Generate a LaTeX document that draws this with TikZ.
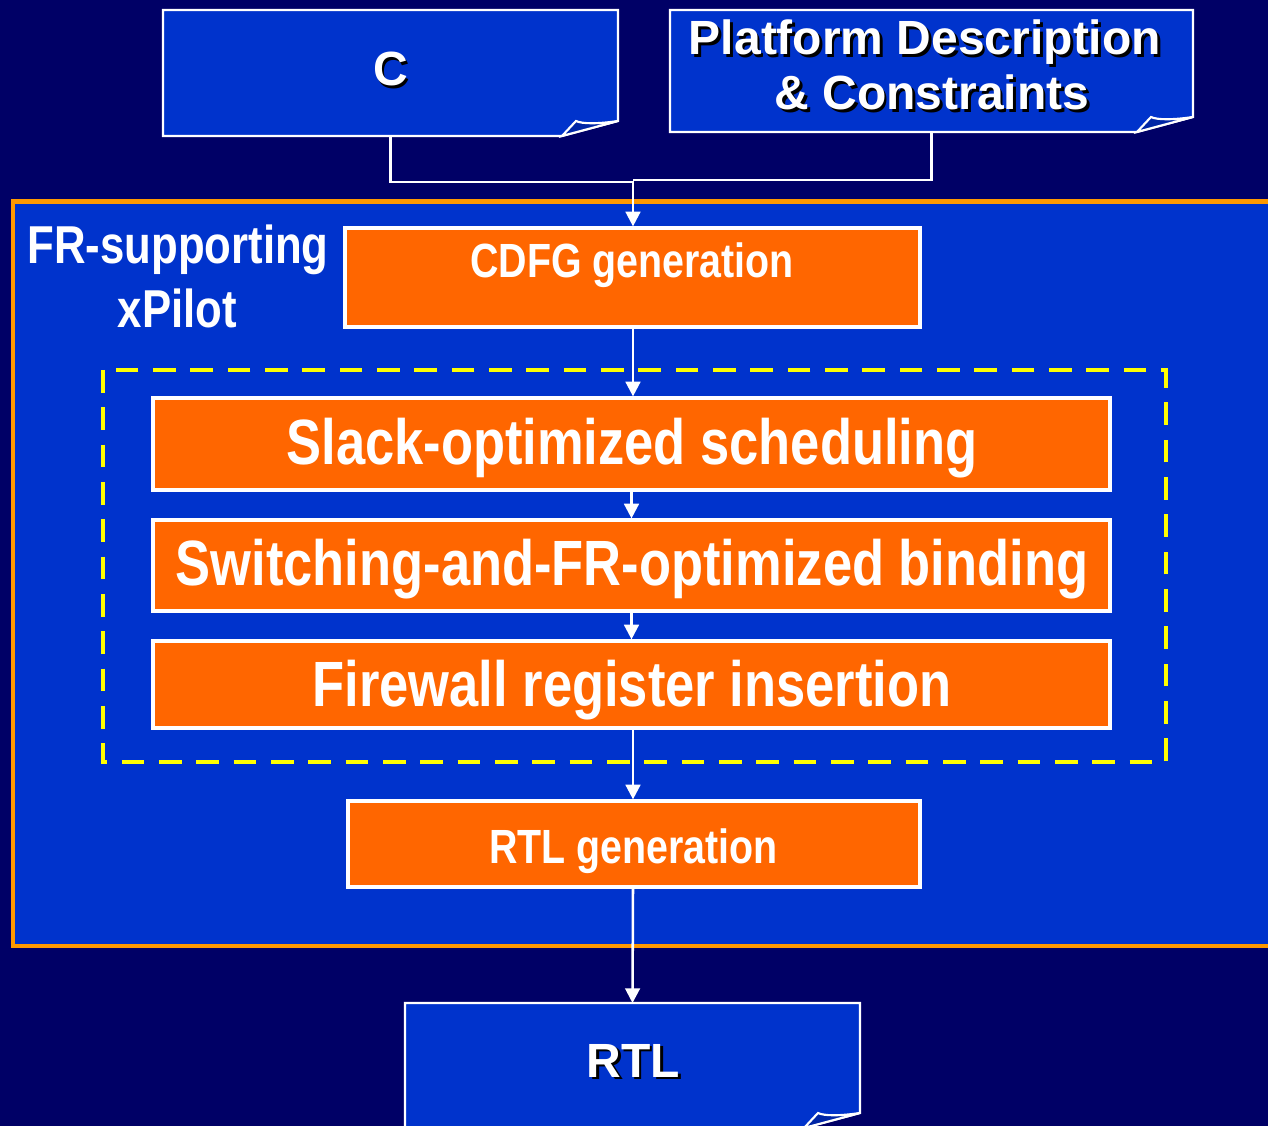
\documentclass[tikz,border=0pt]{standalone}
\usepackage{fontspec}
\setmainfont{Liberation Sans}
\newfontfamily\narrowsans[FakeStretch=0.82]{Liberation Sans}
\usetikzlibrary{arrows.meta}

\definecolor{navybg}{HTML}{000066}
\definecolor{panelblue}{HTML}{0033CC}
\definecolor{foldblue}{HTML}{0026A6}
\definecolor{frameorange}{HTML}{FF9900}
\definecolor{stepfill}{HTML}{FF6600}
\definecolor{dashyellow}{HTML}{FFFF00}

\tikzset{
  docline/.style={draw=white, line width=1.6pt, line join=miter},
  doclabel/.style={font=\bfseries\fontsize{36}{40}\selectfont, text=white, inner sep=0pt, anchor=base},
  stepbox/.style={draw=white, line width=2.4pt, fill=stepfill, inner sep=0pt},
  steplabel/.style={font=\narrowsans\bfseries\fontsize{48}{54}\selectfont, text=white, inner sep=0pt, anchor=base},
  smalllabel/.style={font=\narrowsans\bfseries\fontsize{36}{40}\selectfont, text=white, inner sep=0pt, anchor=base},
  titlelabel/.style={font=\narrowsans\bfseries\fontsize{40}{44}\selectfont, text=white, inner sep=0pt, anchor=base},
  flowline/.style={draw=white, line width=1.9pt},
  flowarrow/.style={flowline, -{Triangle[width=11pt,length=11pt]}},
}

% white text with a dark drop shadow set behind it in the same box
\newcommand\dropshadow[1]{%
  \makebox[0pt][l]{\kern2pt\raisebox{-2pt}{\color{black}#1}}#1}

% document page with a curled lower right corner: #1 name, #2 left, #3 top, #4 right, #5 bottom
\newcommand\docpage[5]{%
  \draw[docline, fill=panelblue] (#2,#3) -- (#4,#3) -- (#4,{#5-15}) -- ({#4-56},#5) -- (#2,#5) -- cycle;
  \draw[docline, fill=foldblue] ({#4-56},#5) -- ({#4-42},{#5-15})
     .. controls ({#4-36},{#5-12}) and ({#4-20},{#5-12}) .. (#4,{#5-15}) -- cycle;
  \coordinate (#1-top) at ({(#2+#4)/2},#3);
  \coordinate (#1-bottom) at ({(#2+#4)/2},#5);
}

\begin{document}
\begin{tikzpicture}[x=0.75pt, y=-0.75pt]
  \useasboundingbox (0,0) rectangle (1268,1126);
  \clip (0,0) rectangle (1268,1126);
  \fill[navybg] (0,0) rectangle (1268,1126);

  % the xPilot flow frame
  \draw[frameorange, fill=panelblue, line width=3.5pt] (13,201.5) rectangle (1290,946);
  \node[titlelabel] (frtitle) at (178,264) {FR-supporting};
  \node[titlelabel] (xpilot) at (177.5,328) {xPilot};

  % inputs and output
  \docpage{cdoc}{163}{10}{618}{136}
  \docpage{pdoc}{670}{10}{1193}{132}
  \docpage{rdoc}{405}{1003}{860}{1128}
  \node[doclabel] (clabel) at (390.5,86) {\dropshadow{C}};
  \node[doclabel] (plabel1) at (925,55) {\dropshadow{Platform Description}};
  \node[doclabel] (plabel2) at (932,110) {\dropshadow{\& Constraints}};
  \node[doclabel] (rlabel) at (633,1077) {\dropshadow{RTL}};

  % optimisation stages
  \draw[dashyellow, line width=3.5pt, dash pattern=on 17pt off 11pt] (103,370) rectangle (1166,762);

  \node[stepbox, minimum width=431.25pt, minimum height=74.25pt] (cdfg) at (632.5,277.5) {};
  \node[stepbox, minimum width=717.75pt, minimum height=69pt] (slack) at (631.5,444) {};
  \node[stepbox, minimum width=717.75pt, minimum height=68.25pt] (switch) at (631.5,565.5) {};
  \node[stepbox, minimum width=717.75pt, minimum height=65.25pt] (firewall) at (631.5,684.5) {};
  \node[stepbox, minimum width=429pt, minimum height=64.5pt] (rtlgen) at (634,844) {};

  \node[smalllabel] (cdfgtext) at (632,278) {CDFG generation};
  \node[steplabel] (slacktext) at (632,465) {Slack-optimized scheduling};
  \node[steplabel] (switchtext) at (632,586) {Switching-and-FR-optimized binding};
  \node[steplabel] (firewalltext) at (632,706) {Firewall register insertion};
  \node[smalllabel] (rtlgentext) at (633.5,863) {RTL generation};

  % connectors
  \coordinate (merge) at (633,181);
  \draw[flowline] (cdoc-bottom) |- (633,182);
  \draw[flowline] (pdoc-bottom) |- (633,180);
  \draw[flowarrow] (merge) -- (merge |- cdfg.north);
  \draw[flowarrow] (cdfg.south -| merge) -- (merge |- slack.north);
  \draw[flowarrow] (slack.south) -- (switch.north);
  \draw[flowarrow] (switch.south) -- (firewall.north);
  \draw[flowarrow] (firewall.south -| merge) -- (merge |- rtlgen.north);
  \draw[flowarrow] (rtlgen.south -| merge) -- (rdoc-top);
\end{tikzpicture}
\end{document}
